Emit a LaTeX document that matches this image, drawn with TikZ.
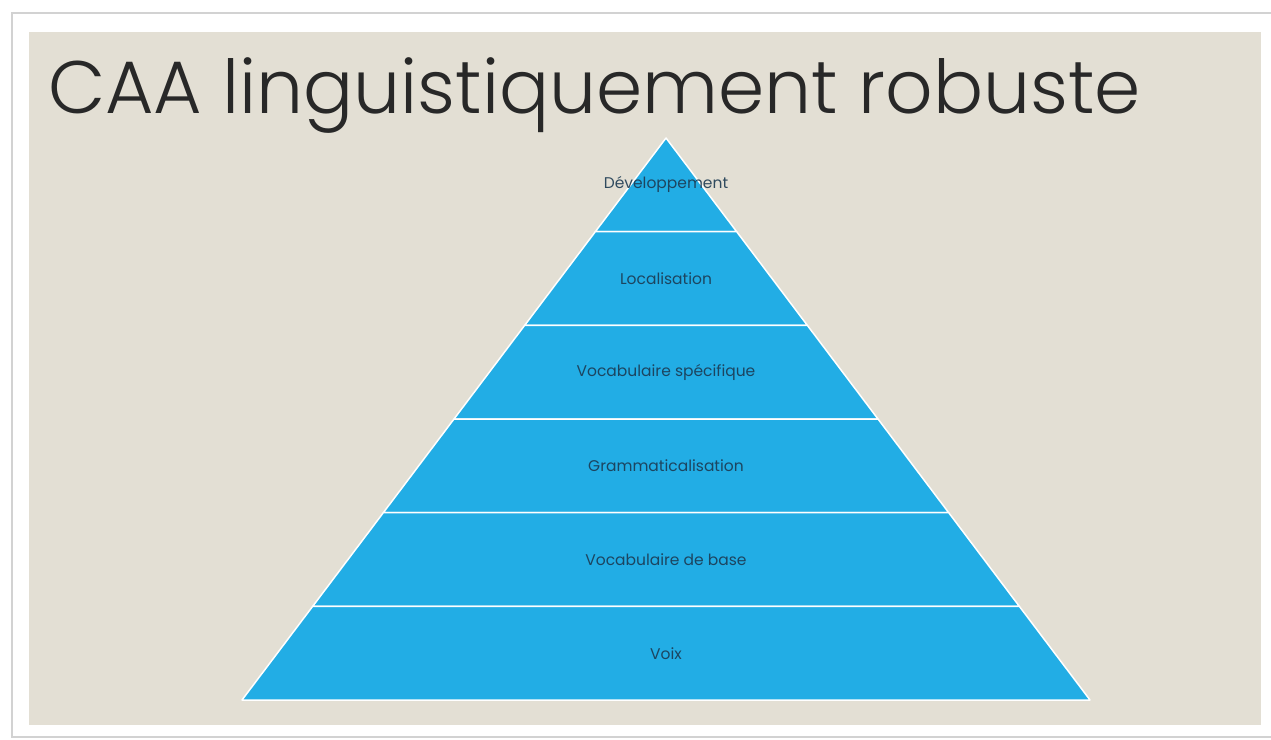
\documentclass[tikz,border=0pt]{standalone}
\usepackage{fontspec}
\setmainfont{Poppins}
\newfontfamily\titlefont{Poppins Light}
\usetikzlibrary{calc}

\definecolor{slidebg}{RGB}{227,223,212}
\definecolor{framegray}{RGB}{210,210,210}
\definecolor{pyrblue}{RGB}{34,173,229}
\definecolor{lbltext}{RGB}{28,58,82}
\definecolor{titletext}{RGB}{40,40,40}

\begin{document}
\begin{tikzpicture}[x=1pt, y=-1pt]
  \newcommand\apexx{666}
  \newcommand\apexy{138}
  \newcommand\layerh{93.67}
  \newcommand\halfstep{70.67} % base half width / 6

  \tikzset{slide/.style={fill=slidebg, draw=none}}
  \tikzset{layer/.style={fill=pyrblue, draw=white, line width=1.5pt, line join=round}}
  \tikzset{lvllabel/.style={font=\fontsize{15.5}{18}\selectfont, text=lbltext, opacity=0.9}}

  \useasboundingbox (0,0) rectangle (1271,739);

  % slide frame
  \draw[framegray, line width=2pt] (1271,13) -- (12,13) -- (12,737) -- (1271,737);
  \fill[slide] (29,32) rectangle (1261,725);
  \node[anchor=base west, inner sep=0pt, text=titletext, font=\titlefont\fontsize{74.3}{80}\selectfont] (title) at (48,113) {CAA linguistiquement robuste};

  % pyramid layers
  \foreach \k in {1,...,6}{
    \pgfmathsetmacro\ytop{\apexy+(\k-1)*\layerh}
    \pgfmathsetmacro\ybot{\apexy+\k*\layerh}
    \pgfmathsetmacro\wtop{(\k-1)*\halfstep}
    \pgfmathsetmacro\wbot{\k*\halfstep}
    \filldraw[layer] (\apexx-\wtop, \ytop) -- (\apexx+\wtop, \ytop) -- (\apexx+\wbot, \ybot) -- (\apexx-\wbot, \ybot) -- cycle;
  }
  \foreach \lbl [count=\k from 1] in {Développement, Localisation, Vocabulaire spécifique, Grammaticalisation, Vocabulaire de base, Voix}{
    \node[lvllabel] (lvl\k) at (\apexx, \apexy+\k*\layerh-\layerh/2) {\lbl};
  }
\end{tikzpicture}
\end{document}
